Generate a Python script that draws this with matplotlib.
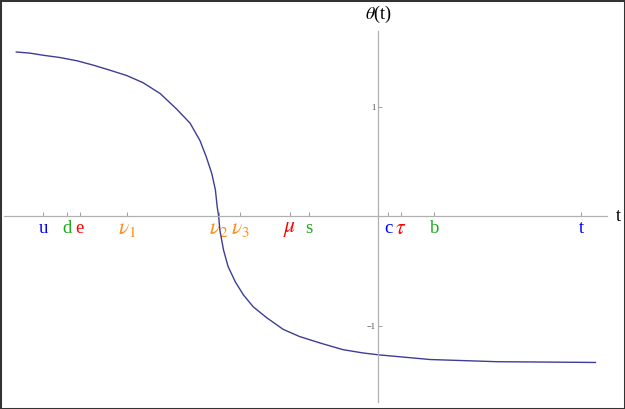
import matplotlib
matplotlib.use("Agg")
import matplotlib.pyplot as plt
from matplotlib.patches import Rectangle

# curve theta(t)
t_vals = [-4.00, -3.85, -3.70, -3.52, -3.33, -3.15, -2.97, -2.78, -2.60, -2.41,
          -2.23, -2.08, -1.97, -1.90, -1.84, -1.80, -1.78, -1.764, -1.75, -1.71,
          -1.66, -1.58, -1.49, -1.38, -1.23, -1.05, -0.87, -0.64, -0.39, -0.17,
          0.00, 0.57, 1.31, 2.40]
theta_vals = [1.50, 1.49, 1.47, 1.45, 1.42, 1.38, 1.335, 1.285, 1.22, 1.12,
              0.98, 0.85, 0.69, 0.54, 0.39, 0.24, 0.085, 0.0, -0.13, -0.31,
              -0.46, -0.60, -0.72, -0.83, -0.93, -1.035, -1.10, -1.16, -1.22, -1.25,
              -1.267, -1.31, -1.33, -1.337]

# particle marks on the t axis
mark_pos = [-3.70, -3.44, -3.30, -2.78, -1.76, -1.53, -0.98, -0.77, 0.11, 0.25, 0.62, 2.24]
mark_labels = ["u", "d", "e", r"$\nu_1$", r"$\nu_2$", r"$\nu_3$", r"$\mu$", "s",
               "c", r"$\tau$", "b", "t"]
mark_colors = ["#0000ff", "#1faa1f", "#ff0000", "#ff8c1a", "#ff8c1a", "#ff8c1a",
               "#ff0000", "#1faa1f", "#0000ff", "#ff0000", "#1faa1f", "#0000ff"]

y_ticks = [-1, 1]
y_tick_labels = ["\u22121", "1"]

plt.rcParams["font.family"] = ["Liberation Serif", "DejaVu Serif"]
plt.rcParams["mathtext.fontset"] = "stix"

fig = plt.figure(figsize=(6.25, 4.09), dpi=100)
ax = fig.add_axes([0.0064, 0.018, 0.9643, 0.907])

ax.plot(t_vals, theta_vals, color="#3d3d99", lw=1.0)

ax.set_xlim(-4.136, 2.524)
ax.set_ylim(-1.695, 1.695)

for side in ["top", "right"]:
    ax.spines[side].set_visible(False)
for side in ["left", "bottom"]:
    ax.spines[side].set_position(("data", 0))
    ax.spines[side].set_color("#b0b0b0")
    ax.spines[side].set_linewidth(0.9)

ax.set_xticks(mark_pos)
ax.set_xticklabels(mark_labels, fontsize=13.5)
for lbl, col in zip(ax.get_xticklabels(), mark_colors):
    lbl.set_color(col)
    if lbl.get_text().startswith("$"):
        # greek letters look larger in the original
        lbl.set_fontsize(15.5)
ax.tick_params(axis="x", direction="in", length=3, width=0.7, color="#a0a0a0", pad=3)

ax.set_yticks(y_ticks)
ax.set_yticklabels(y_tick_labels, fontsize=6, color="#444444")
ax.tick_params(axis="y", direction="in", length=3, width=0.7, color="#a0a0a0", pad=2)

ax.text(2.65, 0.0, "t", fontsize=13, ha="center", va="center")
ax.text(0.0, 1.84, r"$\theta$(t)", fontsize=13, ha="center", va="center",
        clip_on=False)

fig.patches.append(Rectangle((0, 0), 1, 1, transform=fig.transFigure,
                             fill=False, edgecolor="#333333", lw=2.2))

fig.savefig("out.png", dpi=100)
